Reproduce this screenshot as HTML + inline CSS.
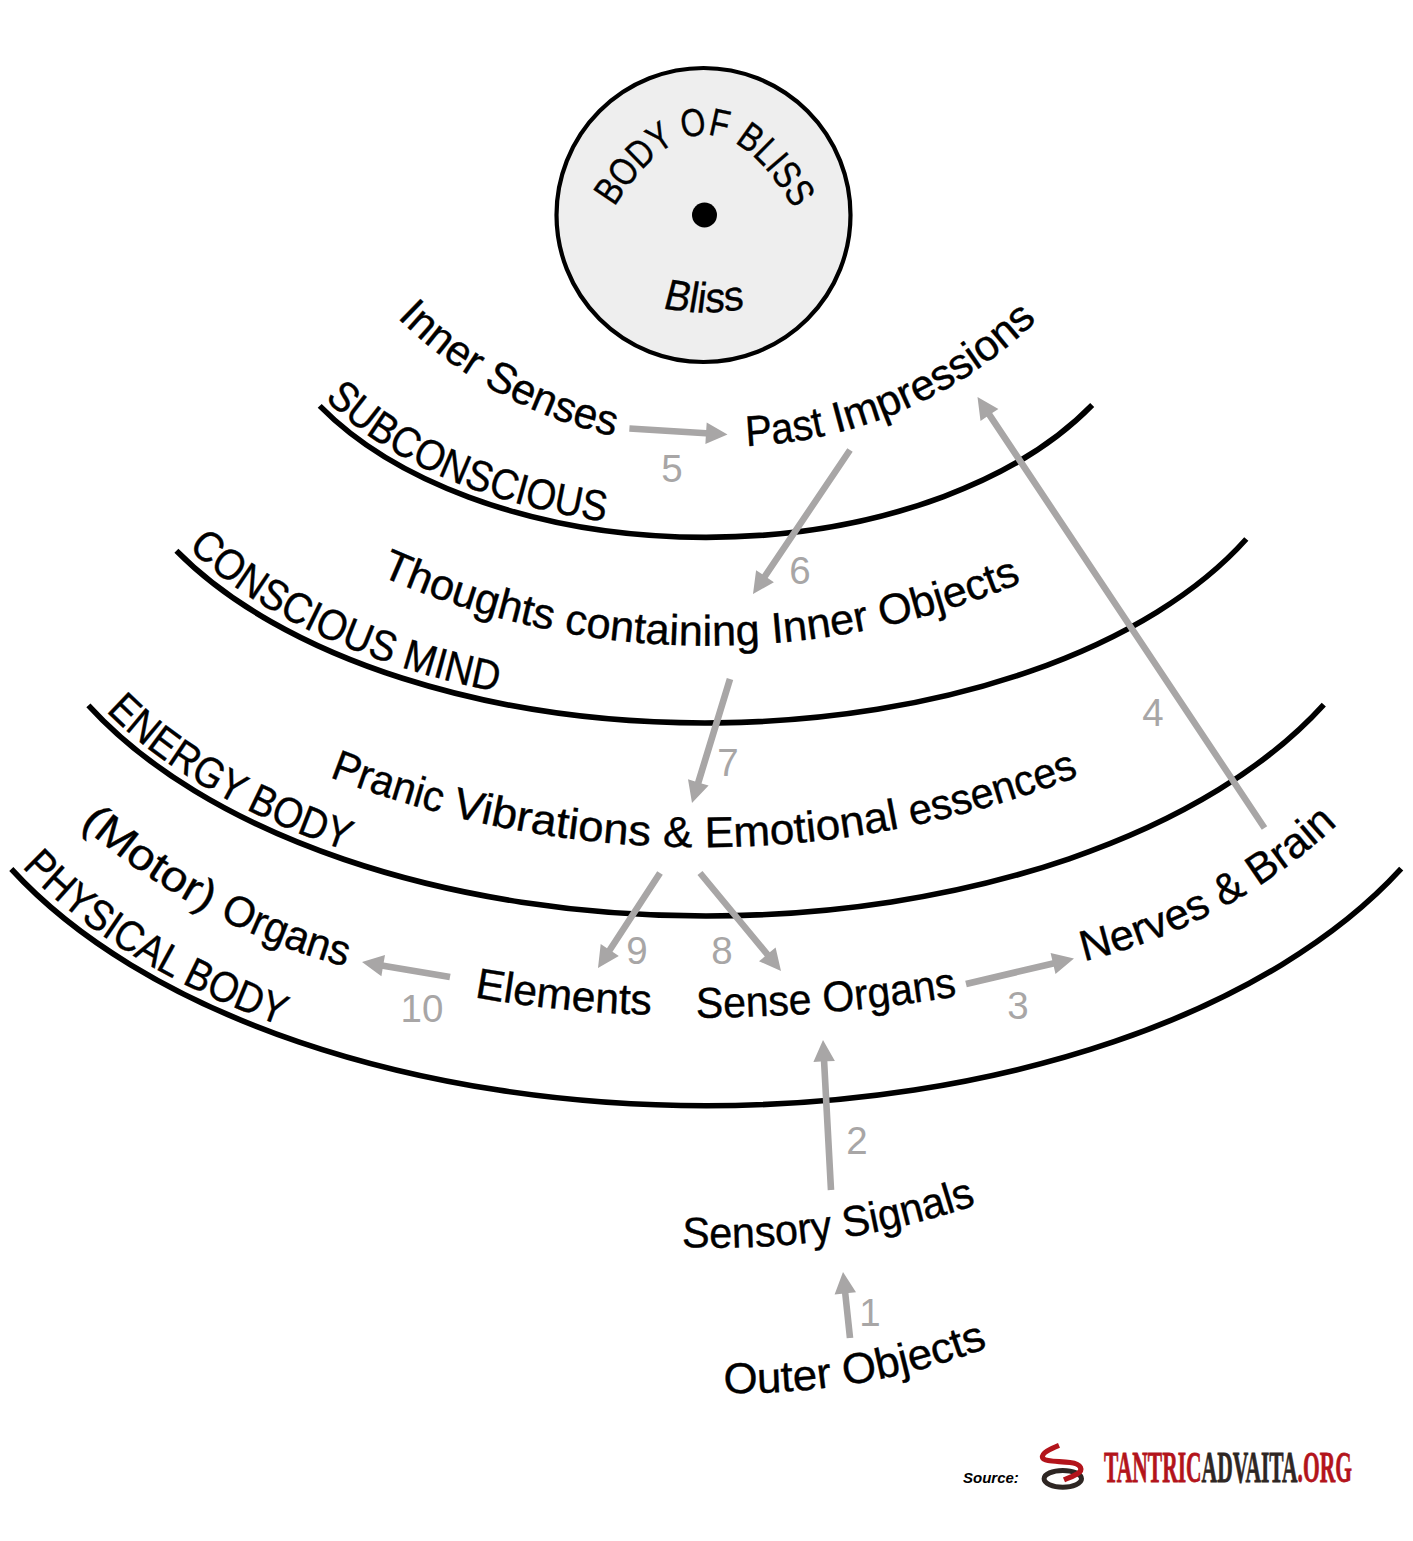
<!DOCTYPE html>
<html><head><meta charset="utf-8"><style>html,body{margin:0;padding:0;background:#fff;overflow:hidden}svg{display:block}</style></head>
<body><svg width="1413" height="1541" viewBox="0 0 1413 1541" font-family='"Liberation Sans", sans-serif'>
<defs><path id="p1" d="M325.00,398.80 A437.67,256.07 0 0 0 905.00,500.21"/><path id="p2" d="M188.00,548.07 A590.23,315.96 0 0 0 797.00,708.64"/><path id="p3" d="M106.00,711.31 A682.68,374.67 0 0 0 646.00,905.56"/><path id="p4" d="M22.00,867.09 A769.96,423.42 0 0 0 581.00,1090.59"/><path id="p5" d="M397.00,317.46 A446.12,446.12 0 0 0 613.97,436.17"/><path id="p6" d="M746.20,445.97 A440.34,440.34 0 0 0 1037.20,320.37"/><path id="p7" d="M379.92,575.45 A804.41,804.41 0 0 0 1021.76,582.47"/><path id="p8" d="M329.21,776.85 A1027.49,1027.49 0 0 0 1078.99,776.02"/><path id="p9" d="M80.08,824.36 A664.59,664.59 0 0 0 345.79,966.68"/><path id="p10" d="M474.15,997.07 A1114.63,1114.63 0 0 0 651.50,1014.65"/><path id="p11" d="M696.10,1017.65 A1630.42,1630.42 0 0 0 957.27,996.28"/><path id="p12" d="M1083.91,961.21 A558.21,558.21 0 0 0 1337.81,824.17"/><path id="p13" d="M681.69,1246.79 A786.85,786.85 0 0 0 976.43,1204.67"/><path id="p14" d="M723.40,1392.73 A684.96,684.96 0 0 0 987.87,1347.50"/><path id="p15" d="M661.82,307.88 A197.53,197.53 0 0 0 743.98,308.70"/><path id="p16" d="M614.3,207.4 Q706.6,61.8 794,209"/></defs>
<rect width="1413" height="1541" fill="#fff"/>
<path d="M319.70,405.85 A446.67,265.07 0 0 0 1092.20,404.97" fill="none" stroke="#000" stroke-width="5.6"/>
<path d="M176.40,550.71 A600.73,326.46 0 0 0 1246.30,539.00" fill="none" stroke="#000" stroke-width="5.6"/>
<path d="M88.40,705.36 A691.68,383.67 0 0 0 1323.80,704.58" fill="none" stroke="#000" stroke-width="5.6"/>
<path d="M11.30,869.00 A779.46,432.92 0 0 0 1401.20,868.71" fill="none" stroke="#000" stroke-width="5.6"/>
<circle cx="703.5" cy="215" r="147" fill="#eeeeee" stroke="#000" stroke-width="4.2"/>
<circle cx="704.5" cy="215" r="12.5" fill="#000"/>
<text font-size="43" fill="#000" stroke="#000" stroke-width="0.4" ><textPath href="#p1" startOffset="0.0" textLength="311.0" lengthAdjust="spacingAndGlyphs">SUBCONSCIOUS</textPath></text>
<text font-size="43" fill="#000" stroke="#000" stroke-width="0.4" ><textPath href="#p2" startOffset="0.0" textLength="345.3" lengthAdjust="spacingAndGlyphs">CONSCIOUS MIND</textPath></text>
<text font-size="43" fill="#000" stroke="#000" stroke-width="0.4" ><textPath href="#p3" startOffset="0.0" textLength="280.0" lengthAdjust="spacingAndGlyphs">ENERGY BODY</textPath></text>
<text font-size="43" fill="#000" stroke="#000" stroke-width="0.4" ><textPath href="#p4" startOffset="0.0" textLength="306.5" lengthAdjust="spacingAndGlyphs">PHYSICAL BODY</textPath></text>
<text font-size="43" fill="#000" stroke="#000" stroke-width="0.4" ><textPath href="#p5" startOffset="0.0" textLength="250.6" lengthAdjust="spacingAndGlyphs">Inner Senses</textPath></text>
<text font-size="43" fill="#000" stroke="#000" stroke-width="0.4" ><textPath href="#p6" startOffset="0.0" textLength="91.3" lengthAdjust="spacingAndGlyphs" xml:space="preserve">Past </textPath></text>
<text font-size="43" fill="#000" stroke="#000" stroke-width="0.4" ><textPath href="#p6" startOffset="91.3" textLength="232.9" lengthAdjust="spacingAndGlyphs" xml:space="preserve">Impressions</textPath></text>
<text font-size="43" fill="#000" stroke="#000" stroke-width="0.4" ><textPath href="#p7" startOffset="0.0" textLength="660.3" lengthAdjust="spacingAndGlyphs">Thoughts containing Inner Objects</textPath></text>
<text font-size="43" fill="#000" stroke="#000" stroke-width="0.4" ><textPath href="#p8" startOffset="0.0" textLength="128.0" lengthAdjust="spacingAndGlyphs" xml:space="preserve">Pranic </textPath></text>
<text font-size="43" fill="#000" stroke="#000" stroke-width="0.4" ><textPath href="#p8" startOffset="128.0" textLength="214.4" lengthAdjust="spacingAndGlyphs" xml:space="preserve">Vibrations </textPath></text>
<text font-size="43" fill="#000" stroke="#000" stroke-width="0.4" ><textPath href="#p8" startOffset="342.4" textLength="41.8" lengthAdjust="spacingAndGlyphs" xml:space="preserve">&amp; </textPath></text>
<text font-size="43" fill="#000" stroke="#000" stroke-width="0.4" ><textPath href="#p8" startOffset="384.2" textLength="208.6" lengthAdjust="spacingAndGlyphs" xml:space="preserve">Emotional </textPath></text>
<text font-size="43" fill="#000" stroke="#000" stroke-width="0.4" ><textPath href="#p8" startOffset="592.8" textLength="174.7" lengthAdjust="spacingAndGlyphs" xml:space="preserve">essences</textPath></text>
<text font-size="43" fill="#000" stroke="#000" stroke-width="0.4" ><textPath href="#p9" startOffset="0.0" textLength="168.0" lengthAdjust="spacingAndGlyphs" xml:space="preserve">(Motor) </textPath></text>
<text font-size="43" fill="#000" stroke="#000" stroke-width="0.4" ><textPath href="#p9" startOffset="168.0" textLength="136.0" lengthAdjust="spacingAndGlyphs" xml:space="preserve">Organs</textPath></text>
<text font-size="43" fill="#000" stroke="#000" stroke-width="0.4" ><textPath href="#p10" startOffset="0.0" textLength="178.4" lengthAdjust="spacingAndGlyphs">Elements</textPath></text>
<text font-size="43" fill="#000" stroke="#000" stroke-width="0.4" ><textPath href="#p11" startOffset="0.0" textLength="262.3" lengthAdjust="spacingAndGlyphs">Sense Organs</textPath></text>
<text font-size="43" fill="#000" stroke="#000" stroke-width="0.4" ><textPath href="#p12" startOffset="0.0" textLength="291.8" lengthAdjust="spacingAndGlyphs">Nerves &amp; Brain</textPath></text>
<text font-size="43" fill="#000" stroke="#000" stroke-width="0.4" ><textPath href="#p13" startOffset="0.0" textLength="299.5" lengthAdjust="spacingAndGlyphs">Sensory Signals</textPath></text>
<text font-size="43" fill="#000" stroke="#000" stroke-width="0.4" ><textPath href="#p14" startOffset="0.0" textLength="270.1" lengthAdjust="spacingAndGlyphs">Outer Objects</textPath></text>
<text font-size="42.5" fill="#000" stroke="#000" stroke-width="0.4" transform="translate(0,310) skewX(-6) translate(0,-310)"><textPath href="#p15" startOffset="0.0" textLength="82.8" lengthAdjust="spacingAndGlyphs">Bliss</textPath></text>
<text font-size="39" fill="#000" stroke="#000" stroke-width="0.4" ><textPath href="#p16" startOffset="0.0" textLength="241.5" lengthAdjust="spacingAndGlyphs">BODY OF BLISS</textPath></text>
<polygon fill="#a8a6a6" points="853.3,1337.7 848.5,1293.0 856.0,1292.2 843.0,1272.0 834.6,1294.5 842.0,1293.7 846.7,1338.3"/>
<polygon fill="#a8a6a6" points="834.3,1189.8 827.4,1061.3 834.9,1060.9 823.0,1040.0 813.4,1062.0 820.8,1061.6 827.7,1190.2"/>
<polygon fill="#a8a6a6" points="966.8,987.2 1053.8,966.7 1055.5,973.9 1074.0,958.5 1050.6,953.0 1052.3,960.2 965.2,980.8"/>
<polygon fill="#a8a6a6" points="1267.2,826.2 992.2,413.1 998.4,408.9 977.5,397.0 980.5,420.9 986.7,416.7 1261.8,829.8"/>
<polygon fill="#a8a6a6" points="629.2,431.8 705.8,436.5 705.4,443.9 727.5,434.5 706.7,422.5 706.2,429.9 629.6,425.2"/>
<polygon fill="#a8a6a6" points="847.3,448.2 762.3,574.3 756.1,570.2 753.0,594.0 773.9,582.2 767.7,578.0 852.7,451.8"/>
<polygon fill="#a8a6a6" points="726.8,678.0 695.1,781.5 688.0,779.3 692.0,803.0 708.6,785.6 701.5,783.4 733.2,680.0"/>
<polygon fill="#a8a6a6" points="697.5,875.1 764.8,956.5 759.0,961.3 781.0,971.0 775.6,947.6 769.8,952.3 702.5,870.9"/>
<polygon fill="#a8a6a6" points="657.2,871.2 607.0,948.2 600.7,944.1 598.0,968.0 618.8,955.9 612.5,951.8 662.8,874.8"/>
<polygon fill="#a8a6a6" points="450.6,973.7 383.7,962.4 385.0,955.0 362.0,962.0 381.4,976.2 382.6,968.9 449.4,980.3"/>
<text x="870" y="1326" font-size="38.5" fill="#a8a6a6" text-anchor="middle">1</text>
<text x="857" y="1154" font-size="38.5" fill="#a8a6a6" text-anchor="middle">2</text>
<text x="1018" y="1019" font-size="38.5" fill="#a8a6a6" text-anchor="middle">3</text>
<text x="1153" y="726" font-size="38.5" fill="#a8a6a6" text-anchor="middle">4</text>
<text x="672" y="482" font-size="38.5" fill="#a8a6a6" text-anchor="middle">5</text>
<text x="800" y="584" font-size="38.5" fill="#a8a6a6" text-anchor="middle">6</text>
<text x="728" y="776" font-size="38.5" fill="#a8a6a6" text-anchor="middle">7</text>
<text x="722" y="964" font-size="38.5" fill="#a8a6a6" text-anchor="middle">8</text>
<text x="637" y="964" font-size="38.5" fill="#a8a6a6" text-anchor="middle">9</text>
<text x="422" y="1022" font-size="38.5" fill="#a8a6a6" text-anchor="middle">10</text>
<text x="963" y="1483" font-size="15" font-weight="bold" font-style="italic" fill="#000">Source:</text>
<text x="1104" y="1482" font-size="45" font-family="Liberation Serif" font-weight="bold" fill="#b3141b" textLength="248" lengthAdjust="spacingAndGlyphs" stroke="#b3141b" stroke-width="0.8">TANTRIC<tspan fill="#2e2623" stroke="#2e2623">ADVAITA</tspan>.ORG</text>
<ellipse cx="1062.8" cy="1478.8" rx="18.7" ry="8.4" fill="none" stroke="#2e2623" stroke-width="5"/>
<path d="M1059,1445.3 C1050,1449 1041.5,1453 1042.5,1457.5 C1044,1462 1058,1461 1070,1462.5 C1082,1464 1083.5,1470 1077,1474 C1072,1477 1067,1478.5 1064,1479.8" fill="none" stroke="#b3141b" stroke-width="5.2"/>
</svg></body></html>
